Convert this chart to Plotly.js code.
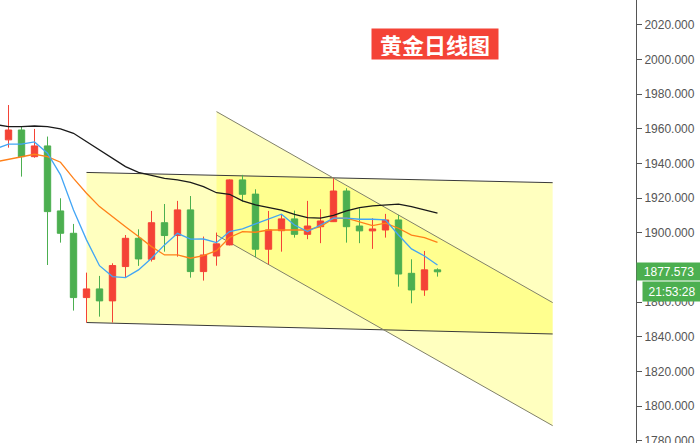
<!DOCTYPE html>
<html>
<head>
<meta charset="utf-8">
<script src="https://cdn.plot.ly/plotly-3.0.1.min.js"></script>
<style>
  html, body { margin: 0; padding: 0; background: #fff; }
  #chart { width: 700px; height: 443px; }
</style>
</head>
<body>
<div id="chart"></div>
<script>
// ---- data ----
const candleIndex = [0,1,2,3,4,5,6,7,8,9,10,11,12,13,14,15,16,17,18,19,20,21,22,23,24,25,26,27,28,29,30,31,32,33];
const opens  = [1953.7,1959.4,1944.0,1950.2,1912.7,1899.8,1862.7,1867.7,1860.8,1880.6,1896.9,1884.8,1905.9,1898.5,1913.3,1877.7,1886.7,1893.1,1930.6,1922.4,1890.6,1901.3,1908.1,1899.2,1903.6,1906.5,1924.2,1904.0,1901.2,1901.7,1907.5,1876.7,1867.1,1878.7];
const highs  = [1973.8,1961.3,1960.0,1955.6,1920.0,1905.2,1877.1,1875.2,1882.5,1898.8,1902.1,1912.7,1916.7,1918.5,1921.3,1897.9,1900.2,1930.9,1933.5,1925.2,1912.7,1910.4,1912.9,1918.5,1913.7,1931.5,1925.8,1914.2,1908.5,1911.0,1910.4,1884.8,1889.6,1879.6];
const lows   = [1949.2,1932.5,1943.4,1881.5,1894.4,1855.2,1848.3,1851.7,1848.3,1874.4,1881.0,1883.5,1889.2,1886.3,1874.2,1872.5,1881.1,1892.8,1918.1,1886.0,1881.9,1889.2,1897.3,1896.4,1894.1,1906.3,1894.4,1894.1,1890.8,1897.3,1869.0,1859.4,1863.7,1874.8];
const closes = [1959.4,1944.0,1950.2,1912.3,1899.8,1862.7,1867.7,1860.8,1881.2,1896.9,1885.0,1905.9,1898.5,1913.3,1877.7,1887.3,1893.7,1930.6,1922.3,1890.6,1901.7,1908.1,1899.2,1904.0,1906.9,1924.2,1903.6,1901.2,1902.3,1907.5,1876.3,1867.1,1878.7,1877.573];

// moving-average lines (index -1 .. 33)
const maIndex = [-1,0,1,2,3,4,5,6,7,8,9,10,11,12,13,14,15,16,17,18,19,20,21,22,23,24,25,26,27,28,29,30,31,32,33];
const maBlue   = [1948.5,1951.2,1951.2,1952.5,1946.0,1933.5,1913.3,1896.0,1881.1,1874.8,1874.2,1878.7,1885.4,1893.1,1899.8,1896.4,1896.5,1894.4,1900.8,1902.3,1905.2,1908.1,1910.8,1904.6,1900.8,1904.6,1908.5,1908.5,1907.9,1907.9,1907.5,1898.8,1890.8,1886.7,1881.5];
const maOrange = [1941.0,1942.5,1944.0,1945.4,1944.0,1940.8,1931.5,1922.9,1915.2,1909.2,1903.6,1897.9,1892.1,1887.3,1887.3,1885.4,1886.9,1889.8,1897.4,1900.8,1900.4,1901.7,1901.7,1901.7,1901.7,1903.6,1908.4,1908.5,1906.2,1904.2,1905.6,1902.7,1898.8,1897.3,1894.6];
const maBlack  = [1962.6,1961.3,1961.3,1961.7,1961.3,1960.0,1957.5,1952.7,1947.9,1943.1,1938.3,1935.0,1933.1,1931.5,1930.6,1929.2,1926.7,1923.2,1922.3,1918.5,1916.2,1914.6,1913.1,1910.7,1908.8,1908.5,1910.1,1912.7,1914.6,1915.6,1916.2,1916.6,1915.2,1913.3,1911.4];

// channels drawn on the chart: [start, end]
const hChannelX      = [6, 41.86];
const hChannelTop    = [1934.9, 1929.0];
const hChannelBottom = [1848.3, 1841.7];
const dChannelX      = [16, 41.86];
const dChannelTop    = [1970.0, 1859.8];
const dChannelBottom = [1898.8, 1788.8];

const yTicks = [1780,1800,1820,1840,1860,1880,1900,1920,1940,1960,1980,2000,2020];
const lastPrice = 1877.573;
const lastTime = '21:53:28';
const chartTitle = '黄金日线图';

// ---- styles ----
const RED = '#F44336', GREEN = '#4CAF50';
const FILL = 'rgba(255,255,0,0.25)';

function band(xs, tops, bots) {
  return 'M' + xs[0] + ',' + tops[0] + ' L' + xs[1] + ',' + tops[1] +
         ' L' + xs[1] + ',' + bots[1] + ' L' + xs[0] + ',' + bots[0] + ' Z';
}
function edge(xs, ys, color) {
  return {type:'line', xref:'x', yref:'y', layer:'below', x0:xs[0], y0:ys[0], x1:xs[1], y1:ys[1],
          line:{color:color, width:1}};
}

const traces = [
  {
    type:'candlestick', x:candleIndex, open:opens, high:highs, low:lows, close:closes,
    increasing:{line:{color:RED, width:1}, fillcolor:RED},
    decreasing:{line:{color:GREEN, width:1}, fillcolor:GREEN},
    whiskerwidth:0, hoverinfo:'none', showlegend:false
  },
  {type:'scatter', mode:'lines', x:maIndex, y:maBlack, line:{color:'#1a1a1a', width:1.3}, hoverinfo:'none', showlegend:false},
  {type:'scatter', mode:'lines', x:maIndex, y:maOrange, line:{color:'#FF8019', width:1.3}, hoverinfo:'none', showlegend:false},
  {type:'scatter', mode:'lines', x:maIndex, y:maBlue, line:{color:'#42A5F5', width:1.3}, hoverinfo:'none', showlegend:false}
];

const layout = {
  width:700, height:443,
  margin:{l:0, r:64, t:0, b:0, pad:0},
  paper_bgcolor:'#fff', plot_bgcolor:'#fff',
  showlegend:false,
  xaxis:{range:[-0.654, 48.27], visible:false, rangeslider:{visible:false}, fixedrange:true},
  yaxis:{
    side:'right', range:[1778.8, 2034.4], showgrid:false, zeroline:false,
    showline:true, linecolor:'#555', linewidth:1,
    ticks:'outside', ticklen:5, tickcolor:'#555',
    tickvals:yTicks, tickformat:'.3f', ticklabeloverflow:'allow',
    tickfont:{family:'Liberation Sans, Arial, sans-serif', size:12, color:'#555'},
    fixedrange:true
  },
  shapes:[
    {type:'path', xref:'x', yref:'y', layer:'below', path:band(hChannelX, hChannelTop, hChannelBottom), fillcolor:FILL, line:{width:0}},
    {type:'path', xref:'x', yref:'y', layer:'below', path:band(dChannelX, dChannelTop, dChannelBottom), fillcolor:FILL, line:{width:0}},
    edge(hChannelX, hChannelTop, '#3a3a3a'),
    edge(hChannelX, hChannelBottom, '#3a3a3a'),
    edge(dChannelX, dChannelTop, '#80806a'),
    edge(dChannelX, dChannelBottom, '#80806a')
  ],
  annotations:[
    {xref:'paper', yref:'paper', x:0.6832, y:0.9002, xanchor:'center', yanchor:'middle',
     text:'<b>' + chartTitle + '</b>', showarrow:false,
     font:{family:'Noto Sans CJK SC, sans-serif', size:22, color:'#fff'},
     bgcolor:RED, borderpad:3, width:120, height:24},
    {xref:'paper', yref:'y', x:1, y:lastPrice, xanchor:'left', yanchor:'middle',
     text:lastPrice.toFixed(3), showarrow:false,
     font:{family:'Liberation Sans, Arial, sans-serif', size:12, color:'#fff'},
     bgcolor:GREEN, borderpad:1, width:62, height:15, align:'center'},
    {xref:'paper', yref:'y', x:1, y:lastPrice, xshift:6, yshift:-20, xanchor:'left', yanchor:'middle',
     text:lastTime, showarrow:false,
     font:{family:'Liberation Sans, Arial, sans-serif', size:12, color:'#fff'},
     bgcolor:GREEN, borderpad:1, width:56, height:17, align:'center'}
  ]
};

Plotly.newPlot('chart', traces, layout, {staticPlot:true, displayModeBar:false});
</script>
</body>
</html>
